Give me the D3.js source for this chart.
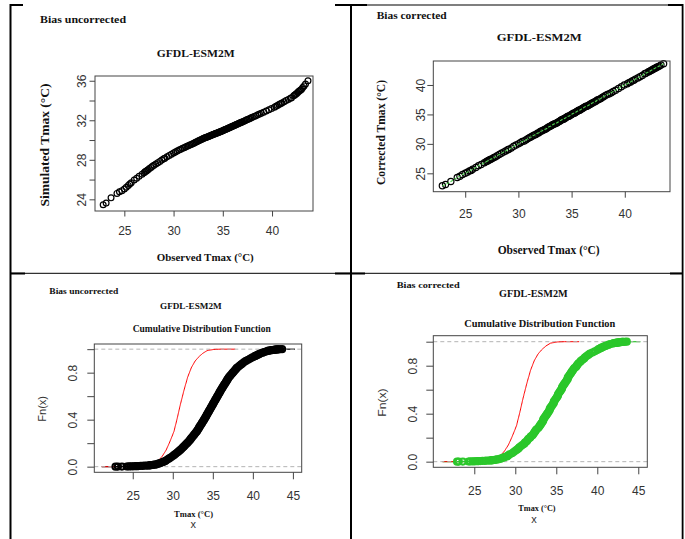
<!DOCTYPE html>
<html>
<head>
<meta charset="utf-8">
<script src="https://cdn.jsdelivr.net/npm/d3@7"></script>
<style>
  html, body { margin: 0; padding: 0; background: #fff; }
  svg { display: block; }
</style>
</head>
<body>
<svg id="fig" width="685" height="539"></svg>
<script>
// Cumulative probability attached to each quantile (denser in the tails)
const prob = [
  0, 0.0005, 0.001, 0.0015, 0.002, 0.0025, 0.003, 0.0035, 0.004, 0.0045,
  0.005, 0.006, 0.007, 0.008, 0.009, 0.010, 0.011, 0.012, 0.013, 0.014,
  0.0155, 0.017, 0.0185, 0.020, 0.025, 0.030, 0.035, 0.040, 0.045, 0.050,
  0.06, 0.07, 0.08, 0.09, 0.10, 0.11, 0.12, 0.13, 0.14, 0.15,
  0.16, 0.17, 0.18, 0.19, 0.20, 0.21, 0.22, 0.23, 0.24, 0.25,
  0.26, 0.27, 0.28, 0.29, 0.30, 0.31, 0.32, 0.33, 0.34, 0.35,
  0.36, 0.37, 0.38, 0.39, 0.40, 0.41, 0.42, 0.43, 0.44, 0.45,
  0.46, 0.47, 0.48, 0.49, 0.50, 0.51, 0.52, 0.53, 0.54, 0.55,
  0.56, 0.57, 0.58, 0.59, 0.60, 0.61, 0.62, 0.63, 0.64, 0.65,
  0.66, 0.67, 0.68, 0.69, 0.70, 0.71, 0.72, 0.73, 0.74, 0.75,
  0.76, 0.77, 0.78, 0.79, 0.80, 0.81, 0.82, 0.83, 0.84, 0.85,
  0.86, 0.87, 0.88, 0.89, 0.90, 0.91, 0.92, 0.93, 0.94,
  0.945, 0.95, 0.955, 0.96, 0.965, 0.97, 0.975, 0.98, 0.985, 0.9875,
  0.99, 0.991, 0.992, 0.993, 0.994, 0.995, 0.996, 0.997, 0.998, 0.9985,
  0.999, 0.9995, 1.0
];

// Observed Tmax quantiles (°C)
const observedTmax = [
  22.85, 23.15, 23.65, 24.25, 24.5, 24.75, 25.0, 25.2, 25.4, 25.55,
  25.7, 26.0, 26.25, 26.5, 26.8, 27.0, 27.1, 27.2, 27.3, 27.4,
  27.55, 27.7, 27.85, 28.0, 28.2, 28.4, 28.6, 28.8, 29.0, 29.11,
  29.33, 29.56, 29.78, 30.0, 30.18, 30.36, 30.55, 30.73, 30.91, 31.07,
  31.21, 31.36, 31.5, 31.64, 31.79, 31.93, 32.06, 32.18, 32.29, 32.41,
  32.53, 32.65, 32.76, 32.88, 33.0, 33.09, 33.18, 33.27, 33.36, 33.45,
  33.55, 33.64, 33.73, 33.82, 33.91, 34.0, 34.08, 34.17, 34.25, 34.33,
  34.42, 34.5, 34.58, 34.67, 34.75, 34.83, 34.92, 35.0, 35.08, 35.17,
  35.25, 35.33, 35.42, 35.5, 35.58, 35.67, 35.75, 35.83, 35.92, 36.0,
  36.09, 36.18, 36.27, 36.36, 36.45, 36.55, 36.64, 36.73, 36.82, 36.91,
  37.0, 37.13, 37.25, 37.38, 37.5, 37.63, 37.75, 37.88, 38.0, 38.18,
  38.36, 38.55, 38.73, 38.91, 39.14, 39.41, 39.68, 39.95, 40.24,
  40.39, 40.55, 40.7, 40.85, 41.0, 41.22, 41.43, 41.65, 41.87, 41.98,
  42.2, 42.3, 42.4, 42.5, 42.6, 42.7, 42.8, 42.9, 43.0, 43.12,
  43.25, 43.4, 43.65
];

// GFDL-ESM2M simulated Tmax quantiles, raw model output (°C)
const simulatedTmax = [
  23.45, 23.62, 24.15, 24.6, 24.77, 24.88, 25.05, 25.23, 25.41, 25.55,
  25.68, 25.95, 26.14, 26.33, 26.55, 26.7, 26.78, 26.85, 26.93, 27.0,
  27.11, 27.23, 27.34, 27.45, 27.58, 27.71, 27.84, 27.97, 28.1, 28.17,
  28.3, 28.44, 28.57, 28.7, 28.79, 28.88, 28.98, 29.07, 29.16, 29.23,
  29.29, 29.36, 29.43, 29.49, 29.56, 29.62, 29.68, 29.74, 29.8, 29.86,
  29.92, 29.98, 30.03, 30.09, 30.15, 30.19, 30.22, 30.26, 30.29, 30.33,
  30.37, 30.41, 30.44, 30.48, 30.51, 30.55, 30.58, 30.62, 30.65, 30.68,
  30.72, 30.75, 30.78, 30.82, 30.85, 30.88, 30.92, 30.95, 30.99, 31.03,
  31.06, 31.1, 31.14, 31.18, 31.21, 31.25, 31.29, 31.32, 31.36, 31.4,
  31.44, 31.48, 31.52, 31.56, 31.6, 31.65, 31.69, 31.73, 31.77, 31.81,
  31.85, 31.91, 31.96, 32.02, 32.08, 32.13, 32.19, 32.25, 32.3, 32.38,
  32.46, 32.55, 32.63, 32.71, 32.81, 32.93, 33.06, 33.18, 33.33,
  33.41, 33.5, 33.59, 33.67, 33.75, 33.87, 33.99, 34.11, 34.23, 34.29,
  34.47, 34.55, 34.64, 34.72, 34.81, 34.9, 34.98, 35.07, 35.15, 35.31,
  35.48, 35.67, 36.0
];

// GFDL-ESM2M Tmax quantiles after bias correction (°C)
const correctedTmax = [
  22.9, 23.1, 23.6, 24.3, 24.5, 24.8, 25.0, 25.2, 25.4, 25.5,
  25.7, 26.0, 26.3, 26.5, 26.8, 27.0, 27.1, 27.2, 27.3, 27.4,
  27.5, 27.7, 27.8, 28.0, 28.2, 28.4, 28.6, 28.8, 29.0, 29.1,
  29.3, 29.6, 29.8, 30.0, 30.2, 30.4, 30.5, 30.7, 30.9, 31.1,
  31.2, 31.4, 31.5, 31.6, 31.8, 31.9, 32.1, 32.2, 32.3, 32.4,
  32.5, 32.6, 32.8, 32.9, 33.0, 33.1, 33.2, 33.3, 33.4, 33.4,
  33.5, 33.6, 33.7, 33.8, 33.9, 34.0, 34.1, 34.2, 34.2, 34.3,
  34.4, 34.5, 34.6, 34.7, 34.7, 34.8, 34.9, 35.0, 35.1, 35.2,
  35.2, 35.3, 35.4, 35.5, 35.6, 35.7, 35.7, 35.8, 35.9, 36.0,
  36.1, 36.2, 36.3, 36.4, 36.4, 36.5, 36.6, 36.7, 36.8, 36.9,
  37.0, 37.1, 37.2, 37.4, 37.5, 37.6, 37.7, 37.9, 38.0, 38.2,
  38.4, 38.5, 38.7, 38.9, 39.1, 39.4, 39.7, 40.0, 40.2,
  40.4, 40.5, 40.7, 40.8, 41.0, 41.2, 41.4, 41.6, 41.9, 42.0,
  42.2, 42.3, 42.4, 42.5, 42.6, 42.7, 42.8, 42.9, 43.0, 43.1,
  43.2, 43.4, 43.6
];

// Horizontal extent of the step functions beyond the data (°C)
const observedStepRange = [21.14, 45.26];
const simulatedStepRange = [21.1, 37.8];

// Axis ticks
const qqXTicks = [25, 30, 35, 40];
const simYTicks = [24, 26, 28, 30, 32, 34, 36];
const simYLabels = [24, 28, 32, 36];
const corrYTicks = [25, 30, 35, 40];
const cdfXTicks = [25, 30, 35, 40, 45];
const cdfYTicks = [0, 0.2, 0.4, 0.6, 0.8, 1];
const cdfYLabels = [0, 0.4, 0.8];

const svg = d3.select("#fig");
const SERIF = "'Liberation Serif','Times New Roman',Times,serif";
const SANS = "'Liberation Sans',Arial,Helvetica,sans-serif";
const BOX = "#444";
const TICK = "#333";
const INK = "#111";
const GREEN = "#2bc72b";

// ---------- table frame ----------
const frame = svg.append("g").attr("fill", "#000");
frame.append("rect").attr("x", 9.5).attr("y", 4).attr("width", 2).attr("height", 535);
frame.append("rect").attr("x", 350).attr("y", 4).attr("width", 2).attr("height", 535);
frame.append("rect").attr("x", 681.7).attr("y", 4).attr("width", 1.8).attr("height", 535);
frame.append("rect").attr("x", 365).attr("y", 4.5).attr("width", 318).attr("height", 1);
frame.append("rect").attr("x", 10).attr("y", 272.8).attr("width", 673).attr("height", 1);
[[10, 23], [335, 367], [668, 683]].forEach(([a, b]) =>
  frame.append("rect").attr("x", a).attr("y", 4).attr("width", b - a).attr("height", 2));
[[10, 25], [335, 365], [670, 683]].forEach(([a, b]) =>
  frame.append("rect").attr("x", a).attr("y", 272.5).attr("width", b - a).attr("height", 2));

// ---------- helpers ----------
function label(t, x, y, o) {
  const el = svg.append("text").attr("x", x).attr("y", y).text(t)
    .attr("font-family", o.family || SERIF)
    .attr("font-size", o.size)
    .attr("font-weight", o.weight || "bold")
    .attr("fill", o.fill || INK)
    .attr("text-anchor", o.anchor || "start");
  if (o.len) el.attr("textLength", o.len).attr("lengthAdjust", "spacingAndGlyphs");
  if (o.rotate) el.attr("transform", `rotate(-90,${x},${y})`);
  return el;
}

function scales(p) {
  return {
    x: d3.scaleLinear().domain(p.xDomain).range([p.left, p.right]),
    y: d3.scaleLinear().domain(p.yDomain).range([p.bottom, p.top])
  };
}

function axes(p, x, y) {
  const gx = svg.append("g").attr("transform", `translate(0,${p.bottom})`)
    .call(d3.axisBottom(x).tickValues(p.xTicks).tickSize(p.tick).tickFormat(d3.format("d")));
  gx.select(".domain").remove();
  gx.selectAll(".tick line").attr("stroke", BOX);
  gx.selectAll(".tick text")
    .attr("y", p.xLabelBase - p.bottom).attr("dy", null)
    .attr("fill", TICK).style("font", `12px ${SANS}`);

  const gy = svg.append("g").attr("transform", `translate(${p.left},0)`)
    .call(d3.axisLeft(y).tickValues(p.yTicks).tickSize(p.tick)
      .tickFormat(d => p.yLabels.includes(d) ? p.yFormat(d) : ""));
  gy.select(".domain").remove();
  gy.selectAll(".tick line").attr("stroke", BOX);
  gy.selectAll(".tick text")
    .attr("x", null).attr("dy", null).attr("text-anchor", "middle")
    .attr("transform", `translate(${p.yLabelBase - p.left},0) rotate(-90)`)
    .attr("fill", TICK).style("font", `12px ${SANS}`);
}

function box(p) {
  svg.append("rect")
    .attr("x", p.left).attr("y", p.top)
    .attr("width", p.right - p.left).attr("height", p.bottom - p.top)
    .attr("fill", "none").attr("stroke", BOX).attr("stroke-width", 1);
}

function circles(g, xs, ys, x, y, r, color, sw) {
  g.selectAll(null).data(xs).join("circle")
    .attr("cx", d => x(d))
    .attr("cy", (d, i) => y(ys[i]))
    .attr("r", r)
    .attr("fill", "none")
    .attr("stroke", color)
    .attr("stroke-width", sw);
}

// ---------- panel 1: raw simulated vs observed quantiles ----------
{
  const p = {
    left: 95, right: 313, top: 76, bottom: 211,
    xDomain: [22.02, 44.16], yDomain: [22.82, 36.48],
    xTicks: qqXTicks, yTicks: simYTicks, yLabels: simYLabels, yFormat: d3.format("d"),
    tick: 5.5, xLabelBase: 235, yLabelBase: 85.5
  };
  const { x, y } = scales(p);
  circles(svg.append("g"), observedTmax, simulatedTmax, x, y, 2.9, "#000", 1.2);
  axes(p, x, y);
  box(p);
  label("Bias uncorrected", 40, 22.5, { size: 10, len: 86 });
  label("GFDL-ESM2M", 156.7, 56.5, { size: 10.5, len: 78 });
  label("Observed Tmax (°C)", 156.7, 261, { size: 11, len: 97 });
  label("Simulated Tmax (°C)", 48.5, 145, { size: 11.5, len: 123, anchor: "middle", rotate: true });
}

// ---------- panel 2: bias-corrected vs observed quantiles ----------
{
  const p = {
    left: 433.3, right: 670, top: 61, bottom: 191.7,
    xDomain: [22.0, 44.25], yDomain: [21.88, 44.07],
    xTicks: qqXTicks, yTicks: corrYTicks, yLabels: corrYTicks, yFormat: d3.format("d"),
    tick: 6, xLabelBase: 218, yLabelBase: 425
  };
  const { x, y } = scales(p);
  circles(svg.append("g"), observedTmax, correctedTmax, x, y, 3.1, "#000", 1.2);
  svg.append("path")
    .datum(observedTmax)
    .attr("d", d3.line().x(d => x(d)).y((d, i) => y(correctedTmax[i])))
    .attr("fill", "none").attr("stroke", "#4fcf4f").attr("stroke-width", 1.1)
    .attr("stroke-dasharray", "3,1.5");
  axes(p, x, y);
  box(p);
  label("Bias corrected", 376.7, 18.5, { size: 10, len: 70 });
  label("GFDL-ESM2M", 496.7, 41, { size: 11, len: 85 });
  label("Observed Tmax (°C)", 497.7, 253.5, { size: 11.5, len: 102 });
  label("Corrected Tmax (°C)", 385, 132.5, { size: 11.5, len: 105, anchor: "middle", rotate: true });
}

// ---------- panels 3 & 4: empirical CDFs ----------
function cdfPanel(p, values, pointColor) {
  const { x, y } = scales(p);
  const g = svg.append("g");
  // step-function tails beyond the data
  g.append("line")
    .attr("x1", x(observedStepRange[0])).attr("x2", x(values[0]))
    .attr("y1", y(0)).attr("y2", y(0))
    .attr("stroke", pointColor).attr("stroke-width", 1.2);
  g.append("line")
    .attr("x1", x(values[values.length - 1])).attr("x2", x(observedStepRange[1]))
    .attr("y1", y(1)).attr("y2", y(1))
    .attr("stroke", pointColor).attr("stroke-width", 1.2);
  g.append("line")
    .attr("x1", x(simulatedStepRange[0])).attr("x2", x(simulatedTmax[0]))
    .attr("y1", y(0)).attr("y2", y(0))
    .attr("stroke", "#f00").attr("stroke-width", 1);
  g.append("line")
    .attr("x1", x(simulatedTmax[simulatedTmax.length - 1])).attr("x2", x(simulatedStepRange[1]))
    .attr("y1", y(1)).attr("y2", y(1))
    .attr("stroke", "#f00").attr("stroke-width", 1);
  // reference lines at 0 and 1
  [0, 1].forEach(v => g.append("line")
    .attr("x1", p.left).attr("x2", p.right)
    .attr("y1", y(v)).attr("y2", y(v))
    .attr("stroke", "#b3b3b3").attr("stroke-width", 1).attr("stroke-dasharray", "4,3"));
  // simulated (uncorrected) CDF
  g.append("path")
    .datum(simulatedTmax)
    .attr("d", d3.line().x(d => x(d)).y((d, i) => y(prob[i])))
    .attr("fill", "none").attr("stroke", "#f00").attr("stroke-width", 1);
  // empirical CDF of the plotted series
  g.append("path")
    .datum(values)
    .attr("d", d3.line().curve(d3.curveStepAfter).x(d => x(d)).y((d, i) => y(prob[i])))
    .attr("fill", "none").attr("stroke", pointColor).attr("stroke-width", 1.5);
  circles(g, values, prob, x, y, 3.1, pointColor, 2);
  axes(p, x, y);
  box(p);
}

{
  const p = {
    left: 94.3, right: 301.7, top: 344, bottom: 472.3,
    xDomain: [20.2, 46.1], yDomain: [-0.048, 1.044],
    xTicks: cdfXTicks, yTicks: cdfYTicks, yLabels: cdfYLabels, yFormat: d3.format(".1f"),
    tick: 7, xLabelBase: 500, yLabelBase: 77
  };
  cdfPanel(p, observedTmax, "#000");
  label("Bias uncorrected", 49.3, 293.5, { size: 8.5, len: 69 });
  label("GFDL-ESM2M", 160, 309, { size: 9, len: 61.7 });
  label("Cumulative Distribution Function", 132.7, 332, { size: 9.5, len: 138 });
  label("Tmax (°C)", 174, 516.5, { size: 8.5, len: 39 });
  label("x", 193.3, 528, { family: SANS, weight: "normal", size: 11, fill: TICK, anchor: "middle" });
  label("Fn(x)", 46, 408.8, { family: SANS, weight: "normal", size: 11, fill: TICK, anchor: "middle", rotate: true, len: 25.7 });
}

{
  const p = {
    left: 433.3, right: 647.3, top: 335.7, bottom: 467.3,
    xDomain: [20.0, 46.1], yDomain: [-0.047, 1.05],
    xTicks: cdfXTicks, yTicks: cdfYTicks, yLabels: cdfYLabels, yFormat: d3.format(".1f"),
    tick: 7, xLabelBase: 495, yLabelBase: 416.5
  };
  cdfPanel(p, correctedTmax, GREEN);
  label("Bias corrected", 396.7, 288.3, { size: 9, len: 63 });
  label("GFDL-ESM2M", 499, 296.5, { size: 10, len: 68.7 });
  label("Cumulative Distribution Function", 464.3, 326.5, { size: 10.4, len: 151 });
  label("Tmax (°C)", 518.3, 511, { size: 9, len: 37.3 });
  label("x", 534, 522.5, { family: SANS, weight: "normal", size: 11, fill: TICK, anchor: "middle" });
  label("Fn(x)", 386, 402.5, { family: SANS, weight: "normal", size: 11.5, fill: TICK, anchor: "middle", rotate: true, len: 28.3 });
}
</script>
</body>
</html>
